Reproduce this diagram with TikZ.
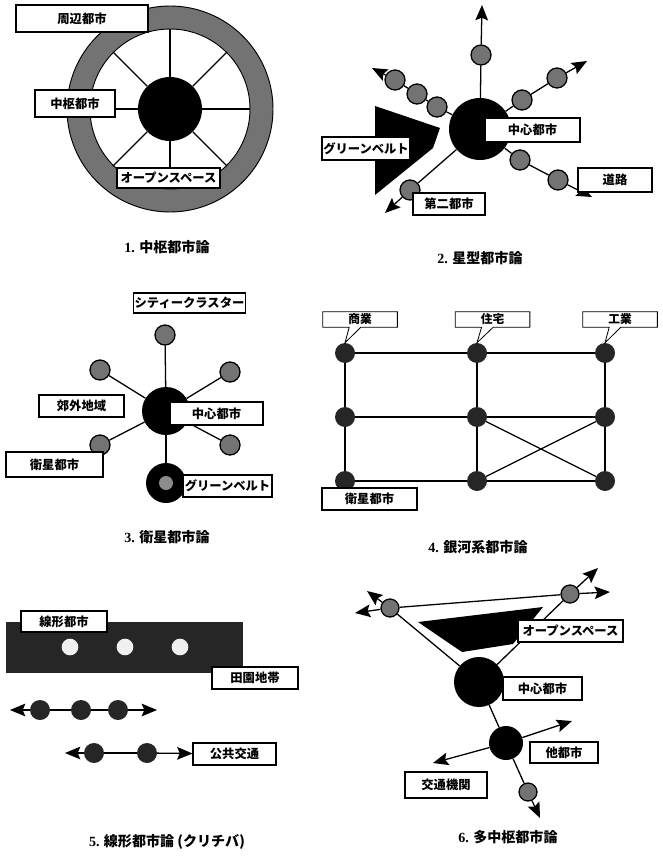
\documentclass[tikz,border=0pt]{standalone}
\usepackage{fontspec}
\setmainfont{Noto Sans CJK JP}
\newfontfamily\numfont{Liberation Serif}
\usetikzlibrary{arrows.meta,shapes.callouts}

\tikzset{
  lbl/.style={draw, line width=0.9pt, fill=white, inner sep=1pt, font=\bfseries\fontsize{10.5}{12}\selectfont},
  tag/.style={rectangle callout, draw, line width=0.7pt, fill=white, inner sep=1pt,
    callout pointer width=3.5mm, minimum width=22.4mm, minimum height=4.6mm,
    font=\bfseries\fontsize{10}{12}\selectfont},
  ttl/.style={font=\bfseries\fontsize{12}{14}\selectfont},
  hub/.style={circle, fill=black, inner sep=0pt},
  town/.style={circle, draw, line width=1.1pt, fill=black!55, inner sep=0pt, minimum size=6mm},
  cell/.style={circle, fill=black!85, inner sep=0pt, minimum size=6mm},
  road/.style={line width=1.1pt},
  arr/.style={road, -{Stealth[length=4.6mm, width=3.8mm, inset=0.8mm]}},
}

\begin{document}
\begin{tikzpicture}[x=0.3mm, y=-0.3mm]
  \useasboundingbox (0,0) rectangle (662,858);

  % 1. core city
  \node[circle, draw, line width=0.8pt, fill=black!55, inner sep=0pt, minimum size=61.8mm] (rim) at (170,109) {};
  \node[circle, draw, line width=0.8pt, fill=white, inner sep=0pt, minimum size=48mm] (park) at (170,109) {};
  \node[hub, minimum size=19.2mm] (core) at (170,109) {};
  \foreach \a in {0,45,...,315}
    \draw[road] (core.\a) -- (park.\a);
  \node[lbl, minimum width=39.6mm, minimum height=8.1mm] (outer) at (82,18.5) {周辺都市};
  \node[lbl, minimum width=24mm, minimum height=8.1mm] (corelbl) at (75,103.5) {中枢都市};
  \node[lbl, minimum width=30.9mm, minimum height=6mm] (open) at (168.5,178) {オープンスペース};
  \node[ttl] (t1) at (167,247) {{\numfont 1.} 中枢都市論};

  % 2. star city
  \fill (375,106) -- (440,128) -- (433,148) -- (375,195) -- cycle;
  \node[hub, minimum size=18.6mm] (star) at (480,129) {};
  \node[town] (a1) at (481,55) {};
  \node[town] (b1) at (437,107) {};
  \node[town] (b2) at (417,94) {};
  \node[town] (b3) at (395,80) {};
  \node[town] (c1) at (522,100) {};
  \node[town] (c2) at (557,78) {};
  \node[town] (d1) at (520,160) {};
  \node[town] (d2) at (558,180) {};
  \node[town] (e1) at (410,190) {};
  \coordinate (a0) at (482,5);
  \coordinate (b0) at (372,68);
  \coordinate (c0) at (587,61);
  \coordinate (d0) at (592,197);
  \coordinate (e0) at (385,213);
  \draw[arr] (star) -- (a1) -- (a0);
  \draw[arr] (star) -- (b1) -- (b2) -- (b3) -- (b0);
  \draw[arr] (star) -- (c1) -- (c2) -- (c0);
  \draw[arr] (star) -- (d1) -- (d2) -- (d0);
  \draw[arr] (star) -- (e1) -- (e0);
  \node[lbl, minimum width=26.4mm, minimum height=6.9mm] (belt2) at (366,148.5) {グリーンベルト};
  \node[lbl, minimum width=28.5mm, minimum height=7.2mm] (starlbl) at (532.5,130) {中心都市};
  \node[lbl, minimum width=22.2mm, minimum height=7.2mm] (road2) at (615,180) {道路};
  \node[lbl, minimum width=21.6mm, minimum height=6.6mm] (second) at (449,204) {第二都市};
  \node[ttl] (t2) at (480,258) {{\numfont 2.} 星型都市論};

  % 3. satellite city
  \node[hub, minimum size=14.4mm] (sat) at (166,411) {};
  \node[town] (s1) at (165,335) {};
  \node[town] (s2) at (100,370) {};
  \node[town] (s3) at (230,372) {};
  \node[town] (s4) at (100,445) {};
  \node[town] (s5) at (230,445) {};
  \node[hub, minimum size=12mm] (ring3) at (166,483) {};
  \node[circle, fill=black!45, inner sep=0pt, minimum size=4.2mm] (ring3in) at (ring3) {};
  \foreach \s in {s1,s2,s3,s4,s5,ring3}
    \draw[road] (sat) -- (\s);
  \node[lbl, minimum width=31.5mm, minimum height=6mm] (cluster) at (189.5,303) {シティークラスター};
  \node[lbl, minimum width=25.5mm, minimum height=6.6mm] (suburb) at (81.5,406) {郊外地域};
  \node[lbl, minimum width=27.9mm, minimum height=6.9mm] (satlbl) at (216.5,413.5) {中心都市};
  \node[lbl, minimum width=29.1mm, minimum height=7.5mm] (moon3) at (54.5,464.5) {衛星都市};
  \node[lbl, minimum width=26.7mm, minimum height=6.6mm] (belt3) at (227.5,486) {グリーンベルト};
  \node[ttl] (t3) at (167,537) {{\numfont 3.} 衛星都市論};

  % 4. galaxy city
  \foreach \c/\x in {1/345,2/477,3/605}
    \foreach \r/\y in {1/353,2/417,3/481}
      \node[cell] (g\c\r) at (\x,\y) {};
  \foreach \c in {1,2,3}
    \draw[road] (g\c1) -- (g\c2) -- (g\c3);
  \foreach \r in {1,2,3}
    \draw[road] (g1\r) -- (g2\r) -- (g3\r);
  \draw[road] (g22) -- (g33);
  \draw[road] (g23) -- (g32);
  \node[tag, callout absolute pointer={(g11.north)}] (shop) at (360,319.5) {商業};
  \node[tag, callout absolute pointer={(g21.north)}] (home) at (492.5,319.5) {住宅};
  \node[tag, callout absolute pointer={(g31.north)}] (works) at (620,319.5) {工業};
  \node[lbl, minimum width=28.5mm, minimum height=6.6mm] (moon4) at (369.5,499) {衛星都市};
  \node[ttl] (t4) at (478,547) {{\numfont 4.} 銀河系都市論};

  % 5. linear city
  \fill[black!85] (6,622) rectangle (243,673);
  \foreach \i/\x in {1/70,2/125,3/180}
    \node[circle, fill=gray!12, inner sep=0pt, minimum size=5mm] (w\i) at (\x,647) {};
  \node[lbl, minimum width=25.8mm, minimum height=6.3mm] (linear) at (64,621.5) {線形都市};
  \node[lbl, minimum width=25.8mm, minimum height=6.6mm] (farm) at (255,678) {田園地帯};
  \node[cell] (r1) at (40,710) {};
  \node[cell] (r2) at (81,710) {};
  \node[cell] (r3) at (118,710) {};
  \coordinate (r0) at (10,710);
  \coordinate (r4) at (157,710);
  \draw[arr] (r1) -- (r0);
  \draw[road] (r1) -- (r2) -- (r3);
  \draw[arr] (r3) -- (r4);
  \node[lbl, minimum width=24.9mm, minimum height=6.6mm] (transit) at (234.5,754) {公共交通};
  \node[cell] (q1) at (94,753) {};
  \node[cell] (q2) at (147,753) {};
  \coordinate (q0) at (65,753);
  \draw[arr] (q1) -- (q0);
  \draw[road] (q1) -- (q2);
  \draw[arr] (q2) -- (transit);
  \node[ttl] (t5) at (167,842) {{\numfont 5.} 線形都市論 (クリチバ)};

  % 6. multi-core city
  \fill (418,622) -- (543,607) -- (513,644) -- (462,652) -- cycle;
  \node[hub, minimum size=15mm] (main) at (479,682) {};
  \node[hub, minimum size=10.2mm] (other) at (506,743) {};
  \node[town, minimum size=5.4mm] (m1) at (390,608) {};
  \node[town, minimum size=5.4mm] (m2) at (570,594) {};
  \node[town, minimum size=5.4mm] (m3) at (528,792) {};
  \coordinate (mw) at (355,613);
  \coordinate (me) at (610,592);
  \coordinate (mnw) at (367,591);
  \coordinate (mne) at (598,568);
  \coordinate (oe) at (572,721);
  \coordinate (ow) at (433,763);
  \coordinate (os) at (540,818);
  \draw[road] (main) -- (m1);
  \draw[road] (main) -- (m2);
  \draw[road] (main) -- (other);
  \draw[arr] (m1) -- (mw);
  \draw[road] (m1) -- (m2);
  \draw[arr] (m2) -- (me);
  \draw[arr] (m1) -- (mnw);
  \draw[arr] (m2) -- (mne);
  \draw[arr] (other) -- (oe);
  \draw[arr] (other) -- (ow);
  \draw[arr] (other) -- (m3) -- (os);
  \node[lbl, minimum width=31.5mm, minimum height=6.6mm] (open6) at (570.5,631) {オープンスペース};
  \node[lbl, minimum width=23.7mm, minimum height=6.9mm] (mainlbl) at (542.5,688.5) {中心都市};
  \node[lbl, minimum width=20.4mm, minimum height=6.3mm] (otherlbl) at (564,752.5) {他都市};
  \node[lbl, minimum width=24.6mm, minimum height=7.8mm] (traffic) at (446,785) {交通機関};
  \node[ttl] (t6) at (508,837) {{\numfont 6.} 多中枢都市論};
\end{tikzpicture}
\end{document}
